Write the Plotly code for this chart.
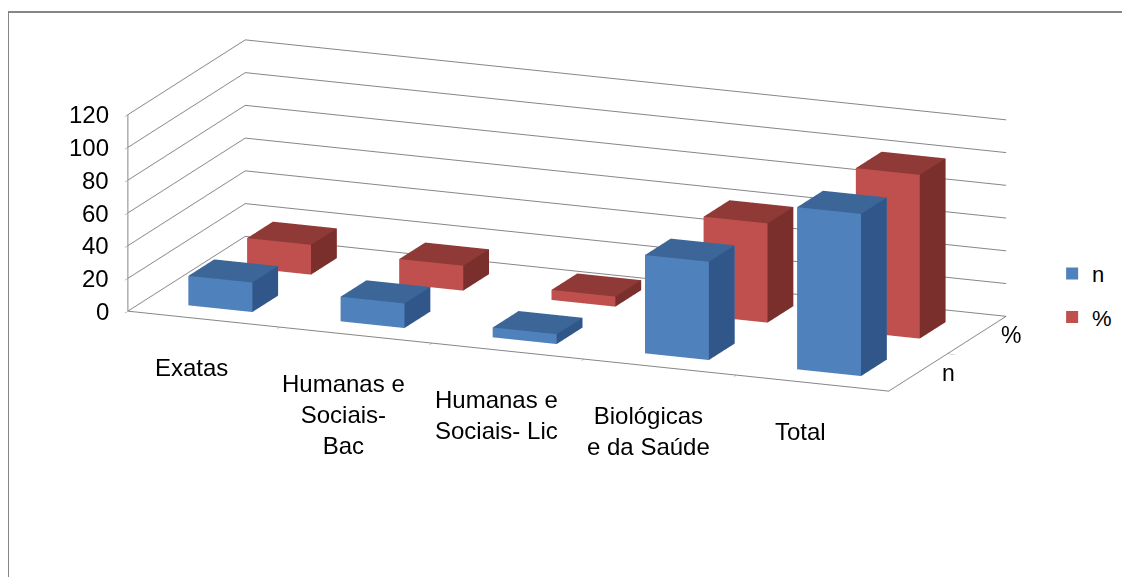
import math
import plotly.graph_objects as go

categories = ["Exatas", "Humanas e<br>Sociais-<br>Bac", "Humanas e<br>Sociais- Lic",
              "Biológicas<br>e da Saúde", "Total"]
series_names = ["n", "%"]
n_values = [18, 15, 6, 60, 99]
pct_values = [18.2, 15.2, 6.1, 60.6, 100]
z_ticks = [0, 20, 40, 60, 80, 100, 120]

FONT = "Liberation Sans, Arial, sans-serif"
colors = {
    "n": {"front": "#4F81BD", "top": "#3C6698", "side": "#30568A", "legend": "#4F81BD"},
    "%": {"front": "#C0504D", "top": "#8F3A37", "side": "#7A2F2D", "legend": "#C0504D"},
}

BW = 0.21   # half width of a bar (category units)
BD = 0.22   # half depth of a bar (series units)


def boxes(values, row, pal):
    xs, ys, zs, I, J, K, fc = [], [], [], [], [], [], []
    for ci, v in enumerate(values):
        b = len(xs)
        x0, x1 = ci - BW, ci + BW
        y0, y1 = row - BD, row + BD
        for (x, y, z) in [(x0, y0, 0), (x1, y0, 0), (x1, y1, 0), (x0, y1, 0),
                          (x0, y0, v), (x1, y0, v), (x1, y1, v), (x0, y1, v)]:
            xs.append(x); ys.append(y); zs.append(z)
        faces = [
            ((0, 1, 5), "front"), ((0, 5, 4), "front"),
            ((4, 5, 6), "top"), ((4, 6, 7), "top"),
            ((1, 2, 6), "side"), ((1, 6, 5), "side"),
            ((0, 3, 7), "side"), ((0, 7, 4), "side"),
            ((3, 2, 6), "front"), ((3, 6, 7), "front"),
            ((0, 1, 2), "top"), ((0, 2, 3), "top"),
        ]
        for (a, c, d), kind in faces:
            I.append(b + a); J.append(b + c); K.append(b + d)
            fc.append(pal[kind])
    return xs, ys, zs, I, J, K, fc


fig = go.Figure()
for row, (name, vals) in enumerate([("n", n_values), ("%", pct_values)]):
    xs, ys, zs, I, J, K, fc = boxes(vals, row, colors[name])
    fig.add_trace(go.Mesh3d(
        x=xs, y=ys, z=zs, i=I, j=J, k=K, facecolor=fc, flatshading=True,
        lighting=dict(ambient=1, diffuse=0, specular=0, roughness=1, fresnel=0),
        hoverinfo="skip", showlegend=False, name=name, scene="scene"))

for name in series_names:
    fig.add_trace(go.Scatter(x=[None], y=[None], mode="markers", name=name,
                             marker=dict(symbol="square", size=12, color=colors[name]["legend"]),
                             legendgroup=name))

ann = []
for ci, c in enumerate(categories):
    ann.append(dict(x=ci, y=-0.5, z=0, text=c, showarrow=False, xanchor="center",
                    yanchor="top", yshift=-33, xshift=-12,
                    font=dict(family=FONT, size=24, color="black")))
for row, s in enumerate(series_names):
    ann.append(dict(x=4.5, y=row, z=0, text=s, showarrow=False, xanchor="left",
                    yanchor="middle", xshift=22, font=dict(family=FONT, size=23, color="black")))
for v in z_ticks:
    ann.append(dict(x=-0.5, y=-0.5, z=v, text=str(v), showarrow=False, xanchor="right",
                    yanchor="middle", xshift=-17, font=dict(family=FONT, size=24, color="black")))

axis_common = dict(showbackground=False, gridcolor="#868686", linecolor="#868686",
                   linewidth=2, gridwidth=2, showspikes=False, zeroline=False,
                   title=dict(text=""))

az, el, dist = math.radians(22.1), math.radians(15.0), 4.0
eye = dict(x=dist * math.sin(az) * math.cos(el), y=-dist * math.cos(az) * math.cos(el),
           z=dist * math.sin(el))

fig.update_layout(
    width=1130, height=577,
    margin=dict(l=0, r=0, t=0, b=0),
    paper_bgcolor="white", plot_bgcolor="white",
    font=dict(family=FONT, size=22, color="black"),
    xaxis=dict(visible=False), yaxis=dict(visible=False),
    legend=dict(x=0.924, y=0.576, xanchor="left", yanchor="top",
                font=dict(family=FONT, size=22), tracegroupgap=12,
                itemwidth=30),
    scene=dict(
        domain=dict(x=[0.006, 0.983], y=[0.282, 0.998]),
        xaxis=dict(axis_common, range=[-0.5, 4.5], showgrid=False, showline=True,
                   tickvals=[0.5, 1.5, 2.5, 3.5], ticktext=["", "", "", ""],
                   ticks="outside", ticklen=8, tickcolor="#868686"),
        yaxis=dict(axis_common, range=[-0.5, 1.5], showgrid=False, showline=True,
                   tickvals=[0.5], ticktext=[""], ticks="outside", ticklen=8,
                   tickcolor="#868686"),
        zaxis=dict(axis_common, range=[0, 120], showgrid=True, showline=True,
                   tickvals=z_ticks, ticktext=[""] * len(z_ticks), ticks="outside",
                   ticklen=8, tickcolor="#868686"),
        aspectmode="manual", aspectratio=dict(x=3.977, y=1.511, z=0.985),
        camera=dict(eye=eye, center=dict(x=0, y=0, z=0), up=dict(x=0, y=0, z=1),
                    projection=dict(type="orthographic")),
        annotations=ann,
    ),
    shapes=[dict(type="rect", xref="paper", yref="paper", x0=0.0, x1=1.01,
                 y0=-0.02, y1=1 - 4 / 577, line=dict(color="#868686", width=2))],
)

fig.write_html("out.html")
